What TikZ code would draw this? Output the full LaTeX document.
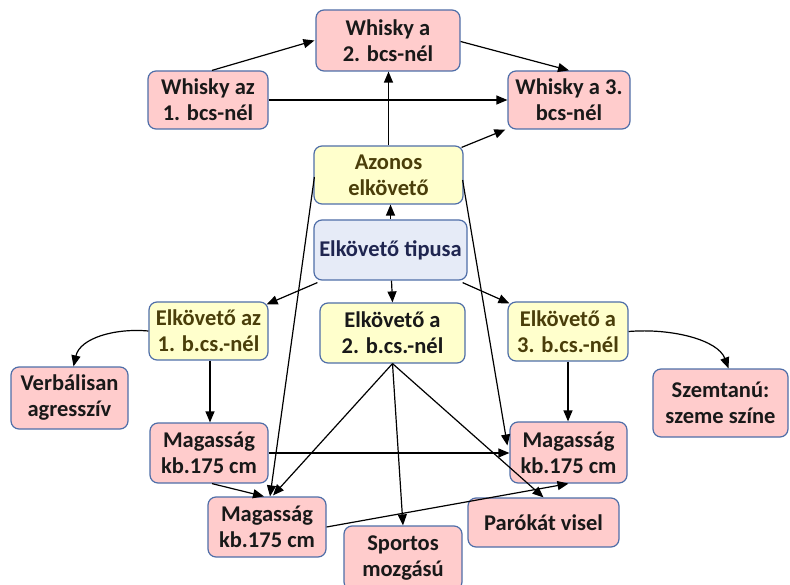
\documentclass[tikz,border=0pt]{standalone}
\usepackage{fontspec}
\setmainfont{Carlito}
\usetikzlibrary{arrows.meta,calc}
\definecolor{pinkf}{HTML}{FFCCCC}
\definecolor{yellf}{HTML}{FFFFCC}
\definecolor{bluef}{HTML}{E6EBF7}
\definecolor{bordc}{HTML}{4F6EA8}
\definecolor{olivet}{HTML}{4A3E0A}
\definecolor{navyt}{HTML}{1F2550}
\begin{document}
\begin{tikzpicture}[x=1pt,y=-1pt,
  box/.style={draw=bordc, line width=1.2pt, rounded corners=8pt, inner sep=0pt,
    align=center, font=\bfseries\fontsize{22.5}{26}\selectfont},
  pinkbox/.style={box, fill=pinkf, text=black!90},
  yellbox/.style={box, fill=yellf, text=olivet},
  bluebox/.style={box, fill=bluef, text=navyt},
  sz/.style 2 args={minimum width=#1pt, minimum height=#2pt},
  conn/.style={-{Triangle[length=11pt,width=9pt]}, line width=1.2pt, black}]
\useasboundingbox (0,0) rectangle (790,585);
% nodes
\node[pinkbox, sz={144}{61}] (W2) at (388,40.5) {Whisky a\\2. bcs-nél};
\node[pinkbox, sz={120}{58}] (W1) at (208,100) {Whisky az\\1. bcs-nél};
\node[pinkbox, sz={122}{58}] (W3) at (569,100) {Whisky a 3.\\bcs-nél};
\node[yellbox, sz={149}{58}] (Az) at (388.5,175) {Azonos\\elkövető};
\node[bluebox, sz={153}{60}] (T) at (390.5,250) {Elkövető tipusa};
\node[yellbox, sz={119}{58}] (E1) at (208.5,331) {Elkövető az\\1. b.cs.-nél};
\node[yellbox, sz={145}{60}, text=black!90] (E2) at (392.5,333) {Elkövető a\\2. b.cs.-nél};
\node[yellbox, sz={120}{59}] (E3) at (568,331.5) {Elkövető a\\3. b.cs.-nél};
\node[pinkbox, sz={117}{62}] (V) at (69.5,398) {Verbálisan\\agresszív};
\node[pinkbox, sz={135}{68}] (Sz) at (720.5,403) {Szemtanú:\\szeme színe};
\node[pinkbox, sz={118}{60}] (M1) at (209,453) {Magasság\\kb.175 cm};
\node[pinkbox, sz={117}{61}] (M3) at (568.5,452.5) {Magasság\\kb.175 cm};
\node[pinkbox, sz={118}{60}] (M2) at (267,527) {Magasság\\kb.175 cm};
\node[pinkbox, sz={151}{49}] (P) at (543.5,522.5) {Parókát visel};
\node[pinkbox, sz={118}{64}] (S) at (403,558) {Sportos\\mozgású};
% connectors
\draw[conn] ($(W1.north)+(4,0)$) -- ($(W2.west)+(-1,0)$);
\draw[conn] ($(W2.east)+(0,1)$) -- (W3.north);
\draw[conn] (W1.east) -- (W3.west);
\draw[conn] (Az.north) -- (Az.north |- W2.south);
\draw[conn] ($(Az.north east)+(-2,2)$) -- ($(W3.south west)+(-2,0)$);
\draw[conn] (T.north) -- (T.north |- Az.south);
\draw[conn] ($(T.south west)+(4,2)$) -- ($(E1.north east)+(-2,3)$);
\draw[conn] ($(T.south)+(1,0)$) -- ($(E2.north)+(0,0)$);
\draw[conn] ($(T.south east)+(-5,2)$) -- ($(E3.north west)+(2,2)$);
\draw[conn] (E1.west) .. controls (115,328) and (80,338) .. ($(V.north)+(4,0)$);
\draw[conn] (E3.east) .. controls (672,328) and (718,340) .. ($(Sz.north)+(8,0)$);
\draw[conn] ($(E1.south)+(1.5,0)$) -- ($(M1.north)+(1,0)$);
\draw[conn] (E3.south) -- (E3.south |- M3.north);
\draw[conn] ($(Az.west)+(1,2)$) -- ($(M2.north)+(3,0)$);
\draw[conn] ($(Az.east)+(-1,5)$) -- ($(M3.west)+(-2,-7)$);
\draw[conn] (E2.south) -- ($(M2.north)+(6,-1)$);
\draw[conn] (E2.south) -- (S.north);
\draw[conn] (E2.south) -- (P.north);
\draw[conn] (M1.east) -- (M1.east -| M3.west);
\draw[conn] ($(M1.south)+(3,0)$) -- ($(M2.north)+(-3,0)$);
\draw[conn] (M2.east) -- (M3.south);
\end{tikzpicture}
\end{document}
